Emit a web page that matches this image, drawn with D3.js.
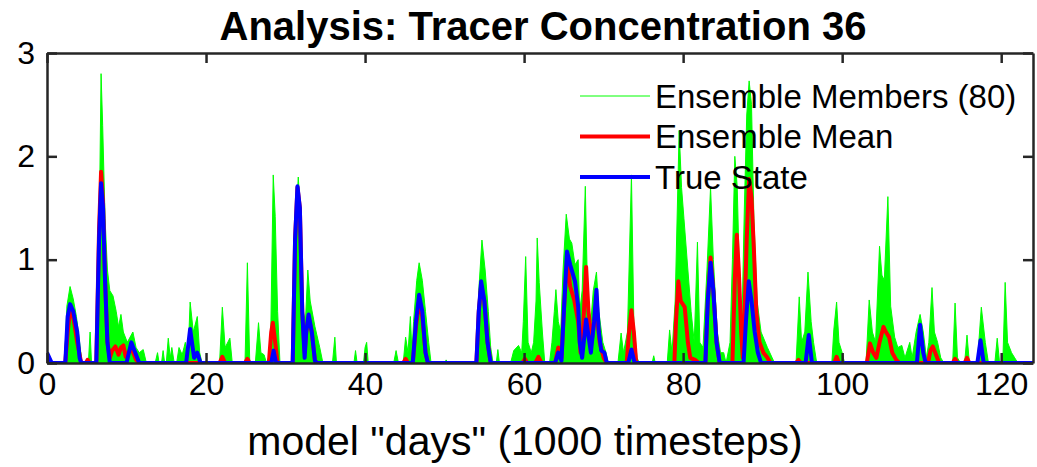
<!DOCTYPE html>
<html>
<head>
<meta charset="utf-8">
<script src="https://cdn.jsdelivr.net/npm/d3@7"></script>
<style>
  body { margin: 0; background: #fff; }
  svg { display: block; font-family: "Liberation Sans", Arial, Helvetica, sans-serif; }
</style>
</head>
<body>
<div id="chart"></div>
<script>
// values: [day, concentration]
var xTicks = [0, 20, 40, 60, 80, 100, 120];
var yTicks = [0, 1, 2, 3];
var legendLabels = ["Ensemble Members (80)", "Ensemble Mean", "True State"];

// upper envelope of the 80 ensemble members
var members = [
  [0,0.12],[0.5,0.02],[1,0],[2.2,0],[2.5,0.55],[2.9,0.74],[3.3,0.62],[3.7,0.45],[4.1,0.2],[4.4,0],
  [5.2,0],[5.42,0.3],[5.6,0],
  [6.3,0],[6.6,1.5],[6.8,2.8],[7.0,2.3],[7.3,1.4],[7.6,0.9],[7.9,0.7],[8.3,0.65],[8.7,0.5],[9.0,0.35],[9.3,0.47],[9.6,0.3],[10.1,0.2],[10.8,0.3],[11.2,0.15],[11.6,0.1],[12.1,0.13],[12.5,0],
  [13.6,0],[13.9,0.1],[14.1,0],[14.4,0],[14.6,0.12],[14.8,0],[15.0,0],[15.25,0.24],[15.5,0.05],[15.7,0.15],[16.0,0],
  [16.3,0],[16.6,0.15],[17.0,0.08],[17.4,0.2],[17.6,0],[17.7,0],[18.0,0.59],[18.4,0.3],[18.9,0.45],[19.2,0.1],[19.5,0],
  [21.7,0],[22.05,0.54],[22.4,0.15],[23.0,0.24],[23.3,0],
  [24.9,0],[25.2,0.97],[25.5,0],
  [26.2,0],[26.6,0.39],[26.9,0.1],[27.3,0.08],[27.6,0],
  [28.1,0.1],[28.45,1.82],[28.7,1.42],[29.0,0.5],[29.3,0],
  [30.9,0],[31.2,1.2],[31.6,1.8],[31.9,1.4],[32.2,0.5],[32.5,0.4],[32.8,0.9],[33.1,0.6],[33.7,0.35],[34.3,0.15],[34.7,0],
  [35.9,0],[36.2,0.25],[36.4,0],
  [38.6,0],[38.8,0.12],[39.0,0],[39.8,0],[40.0,0.15],[40.2,0.2],[40.4,0],
  [43.6,0],[43.9,0.12],[44.2,0],[44.8,0],[45.1,0.25],[45.4,0.1],[45.7,0.45],[45.9,0.1],[46.1,0.4],[46.5,0.8],[46.8,0.97],[47.2,0.8],[47.6,0.5],[48.0,0.2],[48.3,0],
  [50.0,0],[50.2,0.03],[50.4,0],
  [54.0,0],[54.3,0.7],[54.7,1.19],[55.1,0.9],[55.5,0.5],[55.8,0.15],[56.1,0],
  [56.5,0],[56.7,0.13],[56.9,0],
  [58.3,0],[58.7,0.12],[59.3,0.17],[59.7,0.1],[59.9,0.4],[60.2,1.03],[60.5,0.2],[60.9,0.1],[61.2,0.2],[61.5,0.6],[61.65,1.21],[61.9,0.78],[62.3,0.3],[62.6,0],
  [63.2,0],[63.5,0.2],[63.8,0.5],[64.0,0.71],[64.3,0.4],[64.6,0.3],[64.9,0.9],[65.3,1.44],[65.7,1.2],[66.0,1.16],[66.4,0.95],[66.8,1.0],[67.0,0.5],[67.3,0.7],[67.7,1.71],[68.0,0.6],[68.4,0.4],[68.7,0.7],[69.1,0.88],[69.4,0.5],[69.9,0.2],[70.3,0.1],[70.6,0],
  [71.8,0],[72.2,0.29],[72.5,0.1],[73.0,0.3],[73.5,1.82],[73.8,0.4],[74.2,0.05],[74.5,0],
  [76.1,0],[76.3,0.07],[76.5,0],
  [78.0,0],[78.3,0.32],[78.6,0.1],[79.0,0.6],[79.5,2.25],[79.8,1.7],[80.1,1.4],[80.6,0.9],[81.0,0.5],[81.4,0.2],[81.8,1.17],[82.1,0.2],[82.5,0.15],
  [83.0,0.9],[83.45,1.7],[83.8,1.0],[84.3,0.3],[84.7,0.1],[85.1,0.1],[85.4,0],
  [85.9,0.2],[86.2,1.0],[86.5,2.0],[86.8,1.71],[87.1,0.8],[87.4,0.4],[87.7,1.5],[88.0,2.4],[88.3,2.73],[88.6,2.5],[88.9,1.4],[89.3,0.6],[89.8,0.3],[90.6,0.15],[91.2,0.05],[91.5,0],
  [94.2,0],[94.6,0.64],[94.9,0.2],[95.3,0.3],[95.7,0.88],[96.1,0.4],[96.4,0.2],[96.8,0],
  [98.7,0],[98.95,0.32],[99.3,0.59],[99.6,0.2],[100.0,0.1],[100.3,0],
  [103.0,0],[103.4,0.61],[103.8,0.3],[104.2,0.2],[104.7,1.13],[105.0,0.85],[105.3,0.8],[105.75,1.61],[106.1,0.55],[106.6,0.25],[107.0,0.15],[107.5,0.17],[107.9,0.05],[108.5,0.2],[108.8,0.05],[109.3,0.3],[109.8,0.47],[110.2,0.3],[110.6,0.05],
  [110.9,0.2],[111.3,0.73],[111.6,0.3],[112.0,0.2],[112.4,0.05],[112.8,0],
  [113.9,0],[114.2,0.58],[114.5,0.05],[114.9,0],
  [115.4,0],[115.7,0.27],[116.0,0],
  [117.0,0],[117.5,0.54],[118.0,0.2],[118.4,0],
  [119.2,0],[119.5,0.24],[119.8,0],
  [120.2,0],[120.5,0.78],[120.8,0.2],[121.3,0.1],[121.7,0.05],[122.1,0],[124,0]
];

var mean = [
  [0,0.08],[0.5,0],[2.3,0],[2.6,0.3],[2.9,0.5],[3.3,0.45],[3.8,0.2],[4.3,0],
  [4.9,0],[5.1,0.03],[5.4,0],
  [6.2,0],[6.55,1.3],[6.8,1.85],[7.05,1.55],[7.3,0.8],[7.6,0.2],[7.9,0.05],
  [8.2,0.12],[8.6,0.16],[9.0,0.08],[9.3,0.15],[9.6,0.17],[9.9,0.06],[10.6,0.15],[11.2,0.03],[11.6,0],
  [21.7,0],[22.05,0.06],[22.4,0],
  [24.9,0],[25.2,0.04],[25.5,0],
  [27.9,0],[28.2,0.3],[28.4,0.39],[28.7,0.2],[29.0,0],
  [30.9,0],[31.2,1.2],[31.5,1.7],[31.8,1.5],[32.1,0.5],[32.4,0.1],[32.6,0.3],[32.9,0.45],[33.3,0.3],[33.7,0.02],[34,0],
  [44.8,0],[45.1,0.04],[45.4,0],
  [46.0,0],[46.4,0.35],[46.8,0.6],[47.2,0.45],[47.6,0.1],[47.9,0],
  [54.0,0],[54.3,0.5],[54.6,0.75],[55.0,0.6],[55.4,0.2],[55.8,0],
  [59.8,0],[60.1,0.04],[60.4,0],[61.4,0],[61.8,0.06],[62.2,0],
  [63.9,0],[64.3,0.15],[64.7,0.05],[65.0,0.5],[65.4,1.0],[65.8,0.74],[66.3,0.61],[66.8,0.4],[67.1,0.1],[67.4,0.3],[67.8,0.93],[68.1,0.5],[68.5,0.2],[68.9,0.45],[69.1,0.5],[69.5,0.2],[70.0,0.05],[70.4,0],
  [72.9,0],[73.2,0.3],[73.5,0.51],[73.8,0.3],[74.1,0],
  [78.9,0],[79.1,0.4],[79.4,0.79],[79.7,0.6],[80.2,0.54],[80.6,0.2],[80.9,0.05],[81.5,0.03],[82,0],
  [82.8,0],[83.1,0.6],[83.45,1.02],[83.8,0.7],[84.2,0.2],[84.6,0],
  [86.2,0],[86.5,0.8],[86.75,1.24],[87.0,0.9],[87.3,0.3],[87.5,0.05],[87.7,0.4],[88.0,1.2],[88.3,1.78],[88.6,1.6],[88.9,1.1],[89.2,0.5],[89.6,0.2],[90.1,0.1],[90.6,0.05],[91,0],
  [94.2,0],[94.5,0.03],[94.8,0],
  [99.0,0],[99.3,0.06],[99.6,0],
  [103.1,0],[103.5,0.19],[103.9,0.1],[104.3,0.05],[104.7,0.2],[105.2,0.35],[105.5,0.3],[105.9,0.25],[106.3,0.1],[106.8,0.03],[107.2,0],
  [110.8,0],[111.1,0.12],[111.4,0.16],[111.8,0.08],[112.2,0],
  [113.9,0],[114.2,0.04],[114.5,0],
  [115.4,0],[115.7,0.05],[116.0,0],[124,0]
];

var truth = [
  [0,0.1],[0.6,0],[2.3,0],[2.6,0.45],[2.9,0.57],[3.3,0.5],[3.8,0.3],[4.1,0.05],[4.3,0],
  [6.2,0],[6.55,1.2],[6.8,1.74],[7.05,1.5],[7.3,0.8],[7.6,0.2],[7.9,0],
  [10.0,0],[10.6,0.2],[11.2,0.08],[11.6,0],
  [17.5,0],[18.0,0.33],[18.5,0.05],[18.9,0.1],[19.3,0],
  [28.2,0],[28.5,0.12],[28.8,0],
  [30.9,0],[31.2,1.2],[31.5,1.71],[31.8,1.5],[32.1,0.5],[32.4,0.05],[32.6,0.3],[32.9,0.47],[33.3,0.3],[33.7,0.02],[34,0],
  [46.0,0],[46.4,0.4],[46.8,0.66],[47.2,0.5],[47.6,0.1],[47.9,0],
  [54.0,0],[54.3,0.5],[54.6,0.79],[55.0,0.6],[55.4,0.2],[55.8,0],
  [63.9,0],[64.3,0.1],[64.7,0.02],[65.0,0.5],[65.4,1.08],[65.8,0.95],[66.4,0.79],[66.8,0.55],[67.0,0.2],[67.3,0.05],[67.8,0.42],[68.4,0.1],[68.8,0.4],[69.1,0.71],[69.4,0.3],[69.7,0.12],[70.1,0.1],[70.4,0],
  [73.1,0],[73.5,0.13],[73.9,0],
  [82.8,0],[83.1,0.6],[83.45,0.97],[83.8,0.7],[84.2,0.2],[84.6,0],
  [87.6,0],[87.9,0.4],[88.25,0.79],[88.6,0.6],[89.0,0.3],[89.4,0.1],[89.8,0],
  [95.4,0],[95.8,0.27],[96.2,0],
  [109.4,0],[109.8,0.37],[110.2,0.1],[110.5,0],
  [117.0,0],[117.4,0.22],[117.8,0],[124,0]
];

var W = 1037, H = 467;
var margin = { top: 53, right: 4, bottom: 104, left: 47 };
var w = W - margin.left - margin.right;
var h = H - margin.top - margin.bottom;
var axisColor = "#262626";

var svg = d3.select("#chart").append("svg")
  .attr("width", W)
  .attr("height", H);

var x = d3.scaleLinear().domain([0, 124]).range([0, w]);
var y = d3.scaleLinear().domain([0, 3]).range([h, 0]);

svg.append("defs").append("clipPath")
  .attr("id", "clip")
  .append("rect")
  .attr("width", w)
  .attr("height", h);

var g = svg.append("g")
  .attr("transform", "translate(" + margin.left + "," + margin.top + ")");

var plot = g.append("g").attr("clip-path", "url(#clip)");

var line = d3.line()
  .x(function(d) { return x(d[0]); })
  .y(function(d) { return y(d[1]); });

var area = d3.area()
  .x(function(d) { return x(d[0]); })
  .y0(y(0))
  .y1(function(d) { return y(d[1]); });

plot.append("path")
  .datum(members)
  .attr("d", area)
  .attr("fill", "#00ff00");

plot.append("path")
  .datum(members)
  .attr("d", line)
  .attr("fill", "none")
  .attr("stroke", "#00ff00")
  .attr("stroke-width", 1);

plot.append("path")
  .datum(mean)
  .attr("d", line)
  .attr("fill", "none")
  .attr("stroke", "#ff0000")
  .attr("stroke-width", 4)
  .attr("stroke-linejoin", "round");

plot.append("path")
  .datum(truth)
  .attr("d", line)
  .attr("fill", "none")
  .attr("stroke", "#0000ff")
  .attr("stroke-width", 4)
  .attr("stroke-linejoin", "round");

// axes, ticks point inward like matlab
function styleAxis(sel) {
  sel.select(".domain").attr("stroke", axisColor).attr("stroke-width", 2.5);
  sel.selectAll(".tick line").attr("stroke", axisColor).attr("stroke-width", 2.5);
  sel.selectAll(".tick text")
    .attr("fill", "#000")
    .style("font-size", "32px");
}

var xAxis = g.append("g")
  .attr("transform", "translate(0," + h + ")")
  .call(d3.axisBottom(x).tickValues(xTicks).tickFormat(d3.format("d"))
    .tickSizeInner(-10).tickSizeOuter(0).tickPadding(9));
styleAxis(xAxis);

g.append("g")
  .call(d3.axisTop(x).tickValues(xTicks).tickSizeInner(-10).tickSizeOuter(0).tickFormat(""))
  .call(styleAxis);

var yAxis = g.append("g")
  .call(d3.axisLeft(y).tickValues(yTicks).tickFormat(d3.format("d"))
    .tickSizeInner(-10).tickSizeOuter(0).tickPadding(12));
styleAxis(yAxis);

g.append("g")
  .attr("transform", "translate(" + w + ",0)")
  .call(d3.axisRight(y).tickValues(yTicks).tickSizeInner(-10).tickSizeOuter(0).tickFormat(""))
  .call(styleAxis);

// legend
var legendColors = ["#00ff00", "#ff0000", "#0000ff"];
var legendWidths = [1, 4, 4];
var legend = svg.append("g").attr("transform", "translate(580,96)");
legendLabels.forEach(function(label, i) {
  var row = legend.append("g").attr("transform", "translate(0," + i * 40.5 + ")");
  row.append("line")
    .attr("x1", 0).attr("x2", 70)
    .attr("stroke", legendColors[i])
    .attr("stroke-width", legendWidths[i]);
  row.append("text")
    .attr("x", 75)
    .attr("dy", "0.36em")
    .style("font-size", "33px")
    .attr("fill", "#000")
    .text(label);
});

svg.append("text")
  .attr("x", 543)
  .attr("y", 40)
  .attr("text-anchor", "middle")
  .style("font-size", "40px")
  .style("font-weight", "bold")
  .text("Analysis: Tracer Concentration 36");

svg.append("text")
  .attr("x", 525)
  .attr("y", 455)
  .attr("text-anchor", "middle")
  .style("font-size", "41px")
  .text('model "days" (1000 timesteps)');
</script>
</body>
</html>
